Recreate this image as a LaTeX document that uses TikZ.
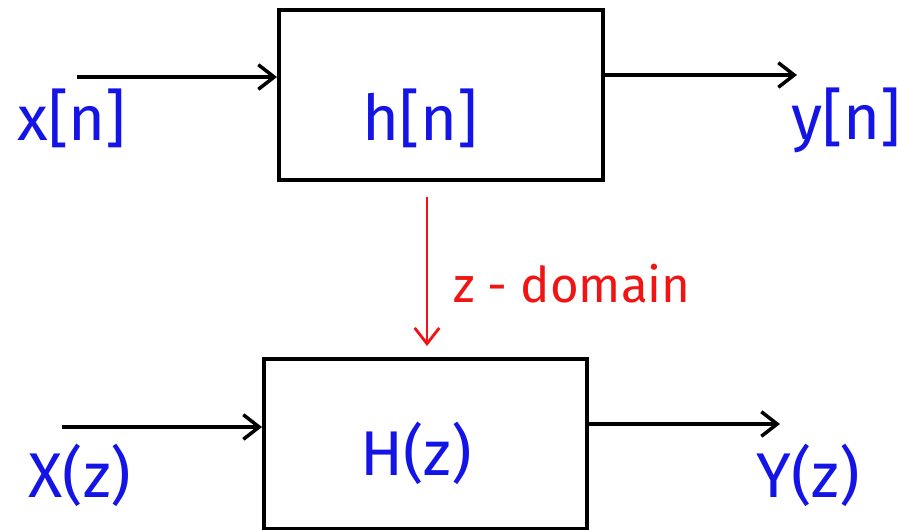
\documentclass[tikz,border=0pt]{standalone}
\usepackage{fontspec}
\setmainfont{Fira Sans}
\usetikzlibrary{arrows.meta}
\definecolor{penblue}{RGB}{20,20,230}
\definecolor{penred}{RGB}{240,20,20}
\tikzset{
  blk/.style={draw=black, line width=2pt, rectangle, inner sep=0pt},
  sig/.style={line width=2pt, -{Straight Barb[length=9pt,width=14pt,line width=2pt]}},
  lbl/.style={text=penblue, font=\fontsize{36}{42}\selectfont, inner sep=0pt},
  redlbl/.style={text=penred, font=\fontsize{28}{34}\selectfont, inner sep=0pt},
}
\begin{document}
\begin{tikzpicture}[x=0.02cm,y=-0.02cm]
\useasboundingbox (0,0) rectangle (899,529);
% top block
\node[blk, minimum width=324*0.02cm, minimum height=170*0.02cm, anchor=north west] (hb) at (277,8) {};
\node[lbl] (hn) at (420,118) {h[n]};
\coordinate (xin) at (77,77);
\coordinate (yout) at (797,75);
\draw[sig] (xin) -- (hb.west |- xin);
\draw[sig] (hb.east |- yout) -- (yout);
\node[lbl] (xn) at (72,118) {x[n]};
\node[lbl] (yn) at (846,120) {y[n]};
% bottom block
\node[blk, minimum width=323*0.02cm, minimum height=170*0.02cm, anchor=north west] (Hb) at (262,357) {};
\node[lbl] (Hz) at (416,453) {H(z)};
\coordinate (Xin) at (62,427);
\coordinate (Yout) at (780,424);
\draw[sig] (Xin) -- (Hb.west |- Xin);
\draw[sig] (Hb.east |- Yout) -- (Yout);
\node[lbl] (Xz) at (80,475) {X(z)};
\node[lbl] (Yz) at (808,475) {Y(z)};
% transform arrow
\coordinate (zs) at (427,197);
\coordinate (ze) at (427,346);
\draw[line width=1.6pt, draw=penred, -{Straight Barb[length=9pt,width=14pt,line width=1.6pt]}] (zs) -- (ze);
\node[redlbl] (zd) at (572,284) {z - domain};
\end{tikzpicture}
\end{document}
